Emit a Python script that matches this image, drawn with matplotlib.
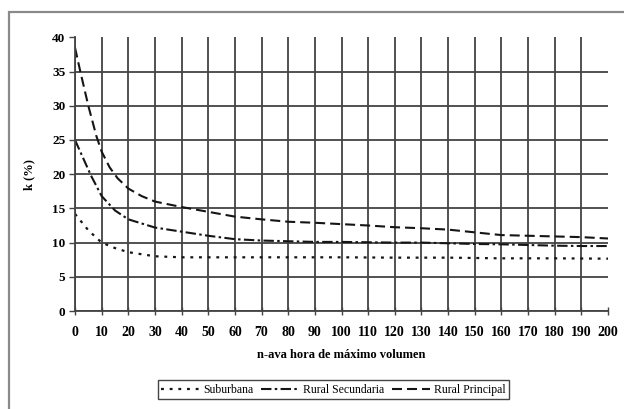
import matplotlib
matplotlib.use('Agg')
import matplotlib.pyplot as plt
from matplotlib.patches import Rectangle
import numpy as np

#%% data

x_sub = [0, 5, 10, 15, 20, 30, 40, 60, 80, 100, 120, 140, 150, 160, 180, 200]
k_sub = [14.2, 11.8, 10.0, 9.2, 8.6, 8.0, 7.85, 7.85, 7.85, 7.85, 7.8, 7.8, 7.75, 7.7, 7.7, 7.65]

x_sec = [0, 3, 6, 10, 15, 20, 30, 40, 50, 60, 70, 80, 90, 100, 110, 120, 130,
         140, 150, 160, 170, 180, 190, 200]
k_sec = [25.0, 22.4, 19.8, 16.8, 14.7, 13.4, 12.2, 11.6, 11.0, 10.5, 10.3, 10.2,
         10.1, 10.1, 10.05, 10.0, 10.0, 9.9, 9.8, 9.75, 9.65, 9.55, 9.5, 9.5]

x_pri = [0, 2, 5, 8, 10, 13, 16, 20, 25, 30, 40, 50, 60, 70, 80, 90, 100, 110, 120,
         130, 140, 150, 160, 170, 180, 190, 200]
k_pri = [38.5, 35.0, 30.0, 25.6, 23.3, 21.0, 19.4, 17.9, 16.8, 16.0, 15.2, 14.5, 13.8,
         13.4, 13.05, 12.9, 12.7, 12.5, 12.25, 12.1, 11.9, 11.5, 11.1, 11.0, 10.9,
         10.8, 10.6]

labels = ['Suburbana', 'Rural Secundaria', 'Rural Principal']
xticks = list(range(0, 201, 10))
yticks = list(range(0, 41, 5))

#%% figure

plt.rcParams['font.family'] = ['Liberation Serif', 'DejaVu Serif']
ink = '#151515'
grid_col = '#434343'

fig = plt.figure(figsize=(6.24, 4.09), dpi=100)
fig.patches.append(Rectangle((8.5 / 624, -0.5), 2.0, 1.5 - 12 / 409,
                             transform=fig.transFigure, fill=False,
                             edgecolor='#8a8a8a', lw=1.6))

ax = fig.add_axes([75 / 624, 1 - 311 / 409, 533 / 624, 273.6 / 409])

ax.plot(x_sub, k_sub, color=ink, lw=1.6, ls=(0, (1.3, 2.6)), label=labels[0])
ax.plot(x_sec, k_sec, color=ink, lw=1.5, ls=(0, (5, 1.6, 1.2, 1.6)), label=labels[1])
ax.plot(x_pri, k_pri, color=ink, lw=1.5, ls=(0, (4.8, 2.4)), label=labels[2])

ax.set_xlim(0, 200)
ax.set_ylim(0, 40)
ax.set_xticks(xticks)
ax.set_yticks(yticks)
ax.grid(True, color=grid_col, lw=1.3)
ax.set_axisbelow(True)
# no line along the top (40) and right (200) edges
ax.yaxis.get_gridlines()[-1].set_visible(False)
ax.xaxis.get_gridlines()[-1].set_visible(False)

for s in ['top', 'right']:
    ax.spines[s].set_visible(False)
for s in ['left', 'bottom']:
    ax.spines[s].set_color(grid_col)
    ax.spines[s].set_linewidth(1.3)

ax.tick_params(axis='x', direction='inout', length=6, width=1, color=grid_col,
               labelsize=10, pad=8)
ax.tick_params(axis='y', direction='out', length=4, width=1, color=grid_col,
               labelsize=9.5, pad=3)
for t in ax.get_xticklabels() + ax.get_yticklabels():
    t.set_fontweight('semibold')

ax.set_xlabel('n-ava hora de máximo volumen', fontsize=9, fontweight='bold', labelpad=7)
ax.set_ylabel('k (%)', fontsize=9, fontweight='bold', labelpad=12)

leg = fig.legend(loc='center', bbox_to_anchor=(333.5 / 624, 1 - 389.7 / 409),
                 ncol=3, fontsize=8.5, frameon=True, fancybox=False,
                 handlelength=3.2, handletextpad=0.4, columnspacing=0.6,
                 borderpad=0.3, borderaxespad=0)
leg.get_frame().set_edgecolor(ink)
leg.get_frame().set_linewidth(1.0)

fig.savefig('out.png', dpi=100)
